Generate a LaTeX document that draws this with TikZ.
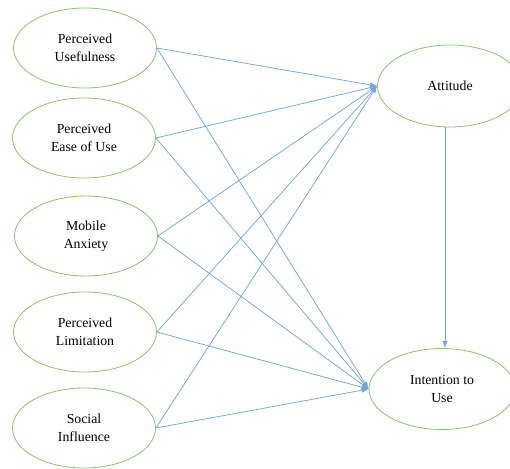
\documentclass[tikz,border=0pt]{standalone}
\usepackage{fontspec}
\setmainfont{Liberation Serif}
\usetikzlibrary{shapes.geometric}
\usetikzlibrary{arrows.meta}

\definecolor{ovalgreen}{HTML}{8CC36E}
\definecolor{linkblue}{HTML}{72A7DB}

\begin{document}
\begin{tikzpicture}[x=1pt,y=-1pt,
    construct/.style={ellipse,draw=ovalgreen,line width=0.8pt,fill=white,
        minimum width=143pt,minimum height=80pt,inner sep=0pt,align=center,
        font=\fontsize{13.8}{18}\selectfont},
    link/.style={draw=linkblue,line width=0.75pt,-{Latex[length=7pt,width=5pt]}}]
                \useasboundingbox (0,0) rectangle (510,468);
                \clip (0,0) rectangle (510,468);

                \node[construct] (pu) at (85,48) {Perceived\\Usefulness};
                \node[construct] (peu) at (84,138) {Perceived\\Ease of Use};
                \node[construct] (ma) at (86,236) {Mobile\\Anxiety};
                \node[construct] (pl) at (85,332) {Perceived\\Limitation};
                \node[construct] (si) at (84,428) {Social\\Influence};

                \node[construct,minimum width=145pt,minimum height=82pt] (att) at (450,86) {Attitude};
                \node[construct,minimum width=146pt,minimum height=81pt] (itu) at (442,389) {Intention to\\Use};

                \draw[link] (pu.east) -- (att.west);
                \draw[link] (pu.east) -- (itu.west);
                \draw[link] (peu.east) -- (att.west);
                \draw[link] (peu.east) -- (itu.west);
                \draw[link] (ma.east) -- (att.west);
                \draw[link] (ma.east) -- (itu.west);
                \draw[link] (pl.east) -- (att.west);
                \draw[link] (pl.east) -- (itu.west);
                \draw[link] (si.east) -- (att.west);
                \draw[link] (si.east) -- (itu.west);

                \draw[link] ([xshift=3pt]itu.north |- att.south) -- ([xshift=3pt]itu.north);
\end{tikzpicture}
\end{document}
